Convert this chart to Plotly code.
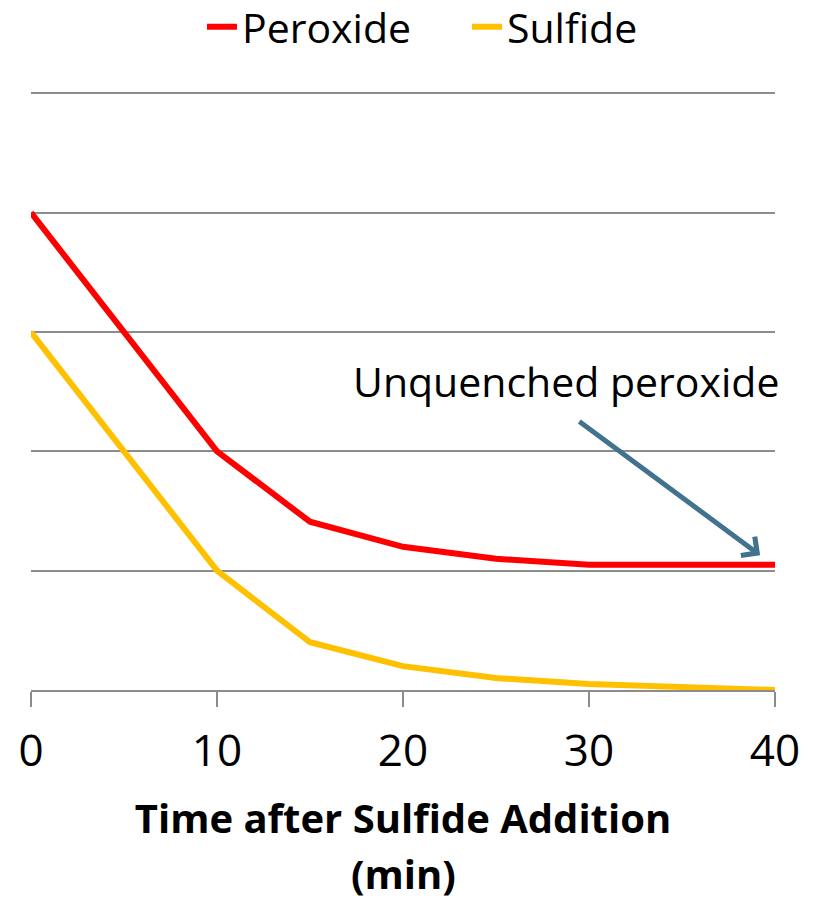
import plotly.graph_objects as go

time_min = [0, 10, 15, 20, 25, 30, 40]
peroxide = [4.0, 2.0, 1.41, 1.2, 1.1, 1.05, 1.05]
sulfide = [3.0, 1.0, 0.4, 0.2, 0.1, 0.05, 0.0]
x_ticks = [0, 10, 20, 30, 40]

FONT = "Open Sans"
GRID = "#8c8c8c"

fig = go.Figure()
fig.add_trace(go.Scatter(x=time_min, y=peroxide, name="Peroxide", mode="lines",
                         line=dict(color="#ff0000", width=6), cliponaxis=False))
fig.add_trace(go.Scatter(x=time_min, y=sulfide, name="Sulfide", mode="lines",
                         line=dict(color="#ffc000", width=6), cliponaxis=False))

fig.add_annotation(x=39.2, y=1.13, ax=29.4, ay=2.26, xref="x", yref="y",
                   axref="x", ayref="y", text="", showarrow=True,
                   arrowhead=4, arrowsize=0.9, arrowwidth=5, arrowcolor="#41728e")
fig.add_annotation(x=1.008, y=0.516, xref="paper", yref="paper", text="Unquenched peroxide",
                   showarrow=False, xanchor="right", yanchor="middle",
                   font=dict(family=FONT, size=41, color="#000000"))
fig.add_annotation(x=0.5, y=-0.306, xref="paper", yref="paper", text="<b>(min)</b>",
                   showarrow=False, xanchor="center", yanchor="middle",
                   font=dict(family=FONT, size=40, color="#000000"))

fig.update_layout(
    width=814, height=900,
    margin=dict(l=31, r=39, t=91, b=210),
    plot_bgcolor="white", paper_bgcolor="white",
    font=dict(family=FONT, color="#000000"),
    showlegend=True,
    legend=dict(orientation="h", x=0.586, xanchor="center", y=0.97, yref="container",
                yanchor="middle", font=dict(size=41, family=FONT), entrywidth=220,
                bgcolor="rgba(0,0,0,0)"),
    xaxis=dict(range=[0, 40], tickvals=x_ticks, ticktext=[str(v) for v in x_ticks],
               showgrid=False, zeroline=False, showline=True, linecolor=GRID,
               linewidth=1.5, ticks="outside", ticklen=15, tickwidth=1.5,
               tickcolor=GRID, tickfont=dict(size=44, family=FONT), ticklabelstandoff=6,
               title=dict(text="<b>Time after Sulfide Addition</b>",
                          font=dict(size=40, family=FONT), standoff=27)),
    yaxis=dict(range=[0, 5.02], dtick=1, showgrid=True, gridcolor=GRID, gridwidth=1.5,
               zeroline=False, showticklabels=False, showline=False, ticks=""),
)

fig.write_html("out.html")
